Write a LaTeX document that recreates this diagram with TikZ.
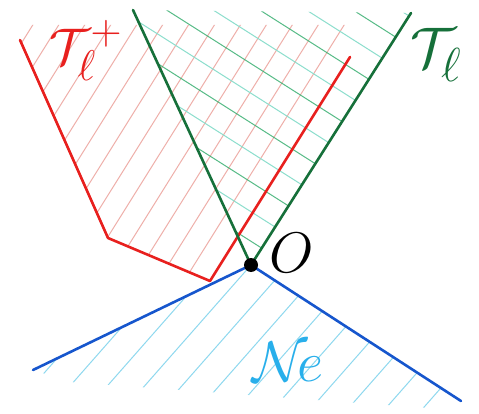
\documentclass[tikz,border=0pt]{standalone}
\usetikzlibrary{calc}
\definecolor{rline}{RGB}{232,32,30}
\definecolor{rhatch}{RGB}{225,110,100}
\definecolor{gline}{RGB}{22,112,58}
\definecolor{ghatch}{RGB}{45,170,105}
\definecolor{ghatchl}{RGB}{140,222,205}
\definecolor{bline}{RGB}{22,86,205}
\definecolor{bhatch}{RGB}{95,200,232}
\definecolor{nlabel}{RGB}{40,175,235}
\tikzset{
  mainline/.style={line width=2.6pt, line cap=round, line join=round},
  hatchline/.style={line width=1pt, line cap=round},
  biglabel/.style={scale=2.3, inner sep=0pt, font=\Huge}
}
\begin{document}
\begin{tikzpicture}[x=1pt,y=-1pt]
\useasboundingbox[fill=white] (0,0) rectangle (479,414);
% key points
\coordinate (O) at (251,265);
\coordinate (R1) at (20,40);
\coordinate (R2) at (108,238);
\coordinate (R3) at (210,281);
\coordinate (R4) at (350,57);
\coordinate (GL) at (133,10);
\coordinate (GR) at (411,13);
\coordinate (BL) at (33,370);
\coordinate (BR) at (461,401);
% red hatching
\begin{scope}
  \clip (R1) -- (R2) -- (R3) -- (R4) -- (350,25) -- (20,25) -- cycle;
  \foreach \k in {-14,...,0}
    \draw[hatchline, rhatch, opacity=0.55] ({210+\k*22*0.848-212},{281+\k*22*0.53+339}) -- ++(424,-678);
\end{scope}
% green hatching
\begin{scope}
  \clip (O) -- (GL) -- (GR) -- cycle;
  \foreach \t [count=\i] in {20,45,...,320} {
    \pgfmathsetmacro{\px}{251+\t*0.536}
    \pgfmathsetmacro{\py}{265-\t*0.844}
    \ifodd\i
      \draw[hatchline, ghatch, opacity=0.8] (\px,\py) -- ++(-400*0.844,-400*0.536);
    \else
      \draw[hatchline, ghatchl] (\px,\py) -- ++(-400*0.844,-400*0.536);
    \fi
  }
\end{scope}
% blue hatching
\begin{scope}
  \clip (O) -- (BL) -- (70,382) -- (455,410) -- (BR) -- cycle;
  \foreach \k in {-7,...,8}
    \draw[hatchline, bhatch, opacity=0.7] ({251+\k*28*0.75-300*0.66},{265+\k*28*0.66+300*0.75}) -- ++(600*0.66,-600*0.75);
\end{scope}
% main lines
\draw[mainline, rline] (R1) -- (R2) -- (R3) -- (R4);
\draw[mainline, gline] (GL) -- (O) -- (GR);
\draw[mainline, bline] (BL) -- (O) -- (BR);
\fill[black] (O) circle (7);
% labels
\node[biglabel, scale=0.9, text=rline] (tplus) at (86,50) {$\mathcal{T}_{\ell}^{+}$};
\node[biglabel, text=gline] (tcone) at (436,55) {$\mathcal{T}_{\ell}$};
\node[biglabel] (olabel) at (292,253) {$O$};
\node[biglabel, text=nlabel] (nlab) at (288,362) {$\mathcal{N}\!e$};
\end{tikzpicture}
\end{document}
